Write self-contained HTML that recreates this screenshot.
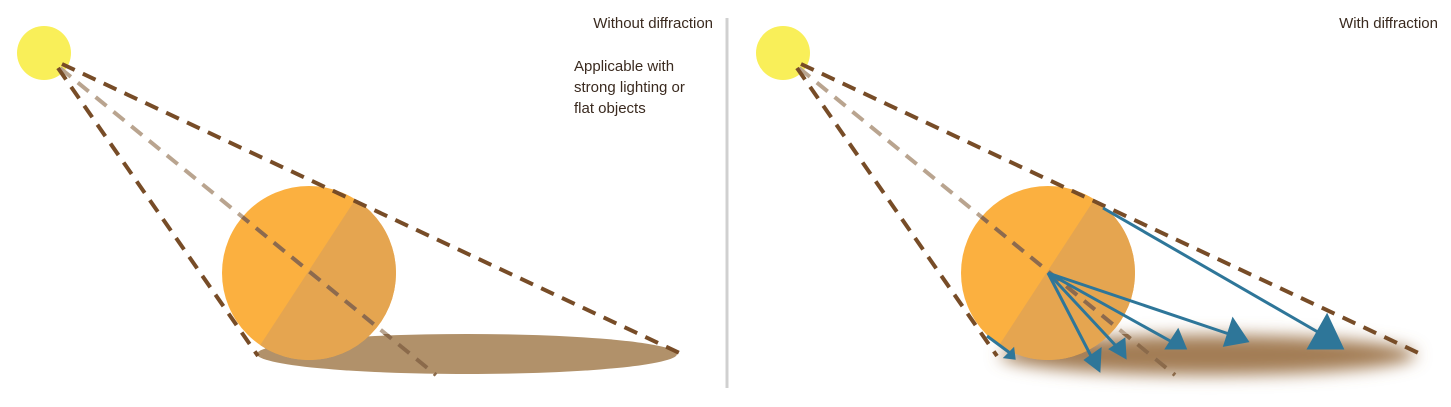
<!DOCTYPE html>
<html><head><meta charset="utf-8"><style>
body{margin:0;background:#fff;width:1451px;height:402px;overflow:hidden;font-family:"Liberation Sans",sans-serif}
</style></head><body>
<svg width="1451" height="402" viewBox="0 0 1451 402">
<defs>
<filter id="blur" x="-20%" y="-100%" width="140%" height="300%"><feGaussianBlur stdDeviation="8"/></filter>
<clipPath id="cl"><circle cx="309" cy="273" r="87"/></clipPath>
<clipPath id="cr"><circle cx="1048" cy="273" r="87"/></clipPath>
<clipPath id="below"><rect x="0" y="334" width="1451" height="68"/></clipPath>
</defs>
<g>
<ellipse cx="467" cy="354" rx="210" ry="20" fill="#b1916a"/>
<circle cx="44" cy="53" r="27" fill="#f9ef59"/>
<g clip-path="url(#cl)">
<rect x="210" y="180" width="200" height="190" fill="#fbb040"/>
<polygon points="368,180 410,180 410,370 244,370" fill="#e5a550"/>
</g>
<line x1="60" y1="68" x2="436" y2="375" stroke="#b9a48f" stroke-width="4" stroke-dasharray="14,9"/>
<line x1="60" y1="68" x2="436" y2="375" stroke="#7a5130" stroke-opacity="0.7" stroke-width="4" stroke-dasharray="14,9" clip-path="url(#cl)"/>
<line x1="60" y1="68" x2="436" y2="375" stroke="#8b6a4a" stroke-width="4" stroke-dasharray="14,9" clip-path="url(#below)"/>
<line x1="58" y1="68" x2="258" y2="356" stroke="#774c27" stroke-width="4" stroke-dasharray="14,9"/>
<line x1="62" y1="64" x2="686" y2="356" stroke="#774c27" stroke-width="4" stroke-dasharray="14,9"/>
<text x="713" y="28" text-anchor="end" font-size="15" fill="#3a2a1f">Without diffraction</text>
<text font-size="15" fill="#3a2a1f"><tspan x="574" y="71">Applicable with</tspan><tspan x="574" y="92">strong lighting or</tspan><tspan x="574" y="113">flat objects</tspan></text>
</g>
<line x1="727" y1="18" x2="727" y2="388" stroke="#d0d0d0" stroke-width="3"/>
<g>
<ellipse cx="1208" cy="355" rx="208" ry="20" fill="#a37d55" filter="url(#blur)"/>
<circle cx="783" cy="53" r="27" fill="#f9ef59"/>
<g clip-path="url(#cr)">
<rect x="950" y="180" width="200" height="190" fill="#fbb040"/>
<polygon points="1107,180 1150,180 1150,370 983,370" fill="#e5a550"/>
</g>
<line x1="799" y1="68" x2="1175" y2="375" stroke="#b9a48f" stroke-width="4" stroke-dasharray="14,9"/>
<line x1="799" y1="68" x2="1175" y2="375" stroke="#7a5130" stroke-opacity="0.7" stroke-width="4" stroke-dasharray="14,9" clip-path="url(#cr)"/>
<line x1="799" y1="68" x2="1175" y2="375" stroke="#8b6a4a" stroke-width="4" stroke-dasharray="14,9" clip-path="url(#below)"/>
<line x1="797" y1="68" x2="997" y2="356" stroke="#774c27" stroke-width="4" stroke-dasharray="14,9"/>
<line x1="801" y1="64" x2="1425" y2="356" stroke="#774c27" stroke-width="4" stroke-dasharray="14,9"/>
<g stroke="#2e7699" stroke-width="3" fill="#2e7699">
<line x1="1048" y1="273" x2="1091" y2="356"/><polygon points="1086,360 1100,350 1099,370"/>
<line x1="1048" y1="273" x2="1117" y2="347"/><polygon points="1111,349 1124,340 1125,357"/>
<line x1="1048" y1="273" x2="1172" y2="342"/><polygon points="1167,348 1178,331 1185,348"/>
<line x1="1048" y1="273" x2="1232" y2="335"/><polygon points="1225,345 1233,320 1247,341"/>
<line x1="1103" y1="208" x2="1323" y2="335"/><polygon points="1309,348 1327,316 1342,348"/>
<line x1="987" y1="336" x2="1010" y2="353"/><polygon points="1006,357 1013,350 1014,358"/>
</g>
<text x="1438" y="28" text-anchor="end" font-size="15" fill="#3a2a1f">With diffraction</text>
</g>
</svg>
</body></html>
